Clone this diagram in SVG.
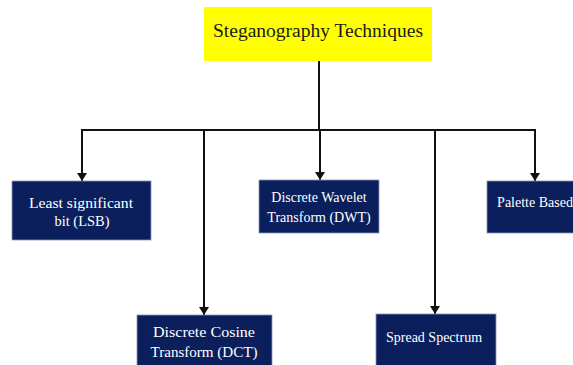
<svg xmlns="http://www.w3.org/2000/svg" width="573" height="365" viewBox="0 0 573 365">
  <style>
    .node { fill: #0b1f5c; stroke: #8a96b8; stroke-width: 0.8; }
    .label { fill: #ffffff; font-family: "Liberation Serif", "Times New Roman", serif; font-size: 14px; text-anchor: middle; }
    .wide { font-size: 15.5px; }
    .title { fill: #1a1a1a; font-family: "Liberation Serif", "Times New Roman", serif; font-size: 19.5px; text-anchor: middle; }
    .wire { fill: none; stroke: #111111; stroke-width: 2; }
  </style>
  <defs>
    <marker id="arrow" viewBox="0 0 8 10" refX="8" refY="5" markerWidth="8" markerHeight="10" markerUnits="userSpaceOnUse" orient="auto">
      <path d="M0,0 L8,5 L0,10 Z" fill="#111111"/>
    </marker>
  </defs>

  <rect width="573" height="365" fill="#ffffff"/>

  <g id="connectors">
    <path class="wire" d="M319,61 V130"/>
    <path class="wire" d="M81,130 H536"/>
    <path class="wire" d="M82,130 V181" marker-end="url(#arrow)"/>
    <path class="wire" d="M204,130 V315" marker-end="url(#arrow)"/>
    <path class="wire" d="M320,130 V180" marker-end="url(#arrow)"/>
    <path class="wire" d="M435,130 V314" marker-end="url(#arrow)"/>
    <path class="wire" d="M535,130 V181" marker-end="url(#arrow)"/>
  </g>

  <g id="root">
    <rect x="204" y="7" width="228" height="54" fill="#ffff00"/>
    <text class="title" x="318" y="37" textLength="210" lengthAdjust="spacingAndGlyphs">Steganography Techniques</text>
  </g>

  <g id="lsb">
    <rect class="node" x="12" y="181" width="139" height="59"/>
    <text class="label wide" x="81" y="208" textLength="104" lengthAdjust="spacingAndGlyphs">Least significant</text>
    <text class="label wide" x="82" y="226" textLength="55" lengthAdjust="spacingAndGlyphs">bit (LSB)</text>
  </g>

  <g id="dct">
    <rect class="node" x="137" y="315" width="135" height="55"/>
    <text class="label wide" x="204" y="337" textLength="102" lengthAdjust="spacingAndGlyphs">Discrete  Cosine</text>
    <text class="label wide" x="204" y="357" textLength="107" lengthAdjust="spacingAndGlyphs">Transform (DCT)</text>
  </g>

  <g id="dwt">
    <rect class="node" x="259" y="180" width="120" height="53"/>
    <text class="label" x="319" y="202">Discrete Wavelet</text>
    <text class="label" x="319" y="222">Transform (DWT)</text>
  </g>

  <g id="spread">
    <rect class="node" x="376" y="314" width="120" height="56"/>
    <text class="label" x="434" y="342">Spread Spectrum</text>
  </g>

  <g id="palette">
    <rect class="node" x="487" y="181" width="90" height="52"/>
    <text class="label" x="535" y="207">Palette Based</text>
  </g>
</svg>
